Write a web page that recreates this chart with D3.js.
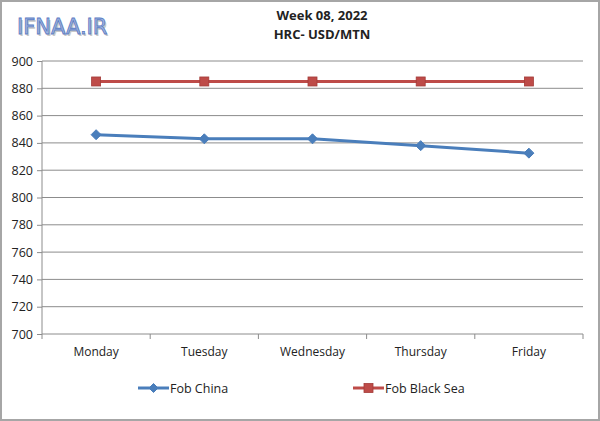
<!DOCTYPE html>
<html><head><meta charset="utf-8">
<script src="https://cdn.jsdelivr.net/npm/d3@7"></script>
<style>body{margin:0;background:#fff}svg{display:block;font-family:"Open Sans","Liberation Sans",sans-serif}</style>
</head><body><svg id="c" width="600" height="421"></svg>
<script>
const categories = ["Monday","Tuesday","Wednesday","Thursday","Friday"];
const fobChina = [846, 843, 843, 838, 832.5];
const fobBlackSea = [885, 885, 885, 885, 885];
const yTicks = [700,720,740,760,780,800,820,840,860,880,900];
const seriesNames = ["Fob China","Fob Black Sea"];
const titleLines = ["Week 08, 2022","HRC- USD/MTN"];

(function(){
const svg = d3.select("#c");
const W=600,H=421;
svg.append("rect").attr("x",1).attr("y",1).attr("width",W-2).attr("height",H-2)
  .attr("fill","#fff").attr("stroke","#a6a6a6").attr("stroke-width",2);

const pL=42,pR=583,pT=61,pB=334;
const x = d3.scaleBand().domain(categories).range([pL,pR]);
const y = d3.scaleLinear().domain([700,900]).range([pB,pT]);

svg.append("g").selectAll("line").data(yTicks.filter(d=>d>700)).join("line")
  .attr("x1",pL).attr("x2",pR).attr("y1",d=>y(d)).attr("y2",d=>y(d))
  .attr("stroke","#8c8c8c").attr("stroke-width",1);

const ya = svg.append("g").attr("transform",`translate(${pL},0)`)
  .call(d3.axisLeft(y).tickValues(yTicks).tickSize(5).tickPadding(4));
ya.select(".domain").attr("stroke","#8c8c8c").attr("d",`M0,${pT}V${pB}`);
ya.selectAll(".tick line").attr("stroke","#8c8c8c");
ya.selectAll(".tick text").attr("font-size",12.5).attr("fill","#222").attr("font-family","'Open Sans',sans-serif");

const xa = svg.append("g").attr("transform",`translate(0,${pB})`)
  .call(d3.axisBottom(x).tickSize(0).tickPadding(13));
xa.select(".domain").attr("stroke","#8c8c8c").attr("d",`M${pL},0H${pR}`);
xa.selectAll(".tick text").attr("font-size",12).attr("fill","#222").attr("font-family","'Open Sans',sans-serif");
svg.append("g").selectAll("line").data(d3.range(categories.length+1)).join("line")
  .attr("x1",i=>pL+i*x.step()).attr("x2",i=>pL+i*x.step())
  .attr("y1",pB).attr("y2",pB+5).attr("stroke","#8c8c8c");

const cx = d=>x(d)+x.bandwidth()/2;
const line = d3.line().x(d=>cx(d[0])).y(d=>y(d[1]));
const blue="#4a7ebb", red="#be4b48";

function diamond(g,px,py,s){g.append("path").attr("d",`M${px},${py-s}L${px+s},${py}L${px},${py+s}L${px-s},${py}Z`).attr("fill",blue).attr("stroke",blue);}
function square(g,px,py,s){g.append("rect").attr("x",px-s).attr("y",py-s).attr("width",2*s).attr("height",2*s).attr("fill",red).attr("stroke","#a33b38").attr("stroke-width",0.8);}

svg.append("path").datum(categories.map((c,i)=>[c,fobBlackSea[i]])).attr("d",line)
  .attr("fill","none").attr("stroke",red).attr("stroke-width",3);
const gr=svg.append("g");
categories.forEach((c,i)=>square(gr,cx(c),y(fobBlackSea[i]),4.5));

svg.append("path").datum(categories.map((c,i)=>[c,fobChina[i]])).attr("d",line)
  .attr("fill","none").attr("stroke",blue).attr("stroke-width",3);
const gb=svg.append("g");
categories.forEach((c,i)=>diamond(gb,cx(c),y(fobChina[i]),5));

const lg=svg.append("g");
const legY=388;
[[138,blue,diamond],[353,red,square]].forEach(([lx,col,fn],i)=>{
  lg.append("line").attr("x1",lx).attr("x2",lx+31).attr("y1",legY).attr("y2",legY).attr("stroke",col).attr("stroke-width",3);
  fn(lg,lx+15.5,legY,4.5);
  lg.append("text").attr("x",lx+32).attr("y",legY+4.5).attr("font-size",12.5).attr("fill","#222").text(seriesNames[i]);
});

svg.append("text").attr("x",322).attr("y",20).attr("text-anchor","middle").attr("font-size",13).attr("font-weight","bold").attr("fill","#222").text(titleLines[0]);
svg.append("text").attr("x",322).attr("y",39).attr("text-anchor","middle").attr("font-size",13).attr("font-weight","bold").attr("fill","#222").text(titleLines[1]);

svg.append("text").attr("x",17).attr("y",34).attr("font-size",21).attr("font-family","'DejaVu Sans',sans-serif")
  .attr("fill","#c8c8c8").attr("transform","translate(1.5,1.5)").text("IFNAA.IR");
svg.append("text").attr("x",17).attr("y",34).attr("font-size",21).attr("font-family","'DejaVu Sans',sans-serif")
  .attr("fill","#9fb4e0").attr("stroke","#5b7cc4").attr("stroke-width",0.8).text("IFNAA.IR");
})();
</script></body></html>
